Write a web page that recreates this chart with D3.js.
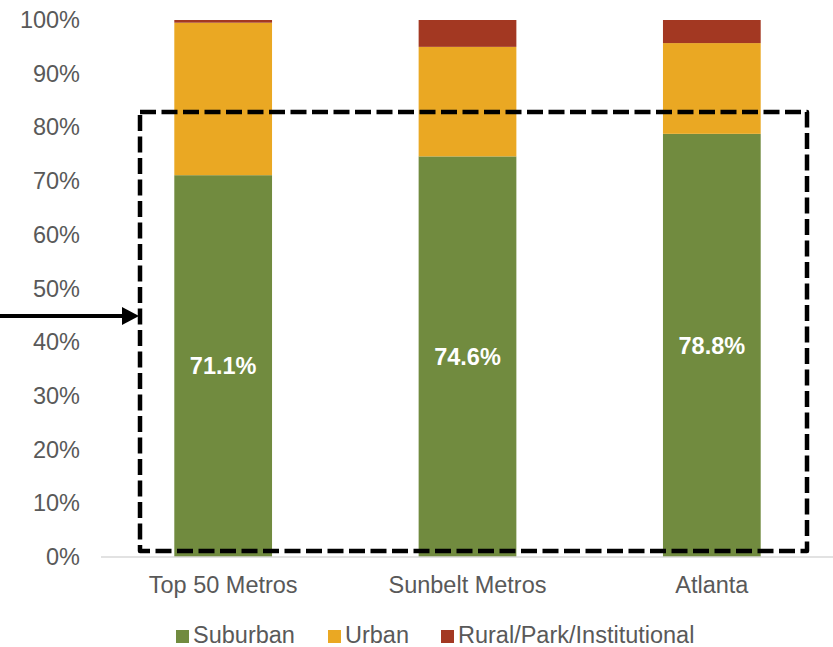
<!DOCTYPE html>
<html>
<head>
<meta charset="utf-8">
<script src="https://cdn.jsdelivr.net/npm/d3@7"></script>
<style>
html,body{margin:0;padding:0;background:#fff;}
svg{display:block;font-family:"Liberation Sans",Arial,sans-serif;}
</style>
</head>
<body>
<svg id="chart" width="833" height="647"></svg>
<script>
const categories = ["Top 50 Metros", "Sunbelt Metros", "Atlanta"];
const seriesNames = ["Suburban", "Urban", "Rural/Park/Institutional"];
const suburban = [71.1, 74.6, 78.8];
const urban = [28.4, 20.4, 16.9];
const rural = [0.5, 5.0, 4.3];
const yTicks = [0, 10, 20, 30, 40, 50, 60, 70, 80, 90, 100];
const colors = ["#718B3F", "#EAA823", "#A33822"];

const svg = d3.select("#chart");
const x = d3.scaleBand().domain(categories).range([101, 834]).paddingInner(0.6).paddingOuter(0.3);
const y = d3.scaleLinear().domain([0, 100]).range([557, 20]);

const rows = categories.map((c, i) => ({cat: c, Suburban: suburban[i], Urban: urban[i], "Rural/Park/Institutional": rural[i]}));
const stack = d3.stack().keys(seriesNames)(rows);

const textColor = "#595959";
const fs = 23.5;

// y axis labels
const yAxis = d3.axisLeft(y).tickValues(yTicks).tickFormat(d => d + "%").tickSize(0).tickPadding(0);
const yg = svg.append("g").attr("transform", "translate(80,0)").call(yAxis);
yg.select(".domain").remove();
yg.selectAll("text").attr("fill", textColor).style("font-size", fs + "px").style("font-family", "Liberation Sans, Arial, sans-serif");

// bars
const g = svg.append("g");
stack.forEach((s, si) => {
  g.selectAll(null).data(s).enter().append("rect")
    .attr("x", d => x(d.data.cat))
    .attr("width", x.bandwidth())
    .attr("y", d => y(d[1]))
    .attr("height", d => y(d[0]) - y(d[1]))
    .attr("fill", colors[si]);
});

// baseline
svg.append("line").attr("x1", 101).attr("x2", 833).attr("y1", y(0)).attr("y2", y(0))
  .attr("stroke", "#d9d9d9").attr("stroke-width", 1.5);

// x axis labels
const xAxis = d3.axisBottom(x).tickSize(0).tickPadding(0);
const xg = svg.append("g").attr("transform", "translate(0,593)").call(xAxis);
xg.select(".domain").remove();
xg.selectAll("text").attr("fill", textColor).style("font-size", fs + "px").style("font-family", "Liberation Sans, Arial, sans-serif").attr("dy", "0").attr("y", 0);

// data labels
svg.append("g").selectAll("text").data(stack[0]).enter().append("text")
  .attr("x", d => x(d.data.cat) + x.bandwidth() / 2)
  .attr("y", d => (y(d[0]) + y(d[1])) / 2)
  .attr("dy", "0.35em")
  .attr("text-anchor", "middle")
  .attr("fill", "#fff")
  .style("font-weight", "bold")
  .style("font-size", fs + "px")
  .text(d => d.data.Suburban.toFixed(1) + "%");

// dashed highlight box
svg.append("path")
  .attr("d", "M140,112 H807 V551 H140 Z")
  .attr("fill", "none").attr("stroke", "#000").attr("stroke-width", 4.5)
  .attr("stroke-dasharray", "16,5.5").attr("stroke-linejoin", "round");

// arrow
svg.append("line").attr("x1", 0).attr("x2", 124).attr("y1", 316).attr("y2", 316)
  .attr("stroke", "#000").attr("stroke-width", 4);
svg.append("path").attr("d", "M122,307 L139,316 L122,325 Z").attr("fill", "#000");

// legend
const legendX = [176, 328, 441];
const lg = svg.append("g");
seriesNames.forEach((n, i) => {
  lg.append("rect").attr("x", legendX[i]).attr("y", 630).attr("width", 13).attr("height", 13).attr("fill", colors[i]);
  lg.append("text").attr("x", legendX[i] + 17).attr("y", 643)
    .attr("fill", textColor).style("font-size", fs + "px").text(n);
});
</script>
</body>
</html>
